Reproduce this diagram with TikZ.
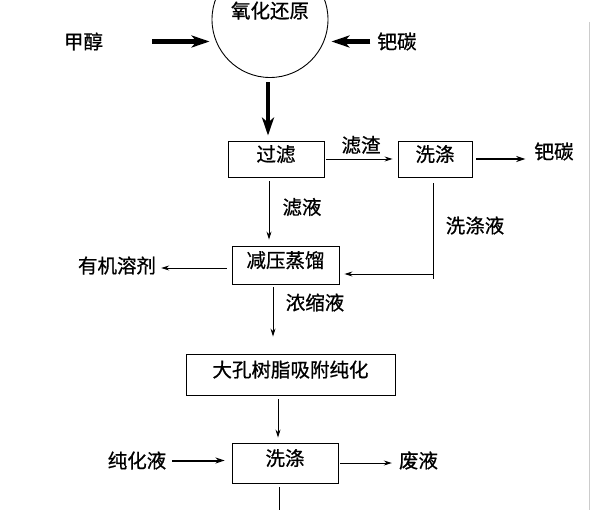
\documentclass[tikz,border=0pt]{standalone}
\usepackage{fontspec}
\setmainfont{Noto Sans CJK SC}[FakeBold=0.8]
\usetikzlibrary{arrows.meta}

\begin{document}
\begin{tikzpicture}[
    x=1pt, y=-1pt,
    every node/.style={font=\fontsize{19.5pt}{23pt}\selectfont, inner sep=3pt},
    box/.style={rectangle, draw, line width=0.9pt, text height=14pt, text depth=9pt},
    arrow/.style={-{Stealth[length=8pt, width=5pt]}, line width=0.9pt},
    midarrow/.style={-{Stealth[length=9pt, width=6pt]}, line width=2pt},
    fatarrow/.style={-{Stealth[length=18pt, width=12pt, inset=5pt]}, line width=4.5pt}
]
    \useasboundingbox (0,0) rectangle (593,510);
    \draw[gray!40, line width=1pt] (589,22) -- (589,510);

    % reaction
    \node[circle, draw, line width=0.9pt, minimum size=116pt, text height=14pt, text depth=17pt] (redox) at (270,19.5) {氧化还原};
    \node (methanol) at (83.5,41.5) {甲醇};
    \node (pdcin) at (397,41.5) {钯碳};

    \draw[fatarrow, shorten <=46pt, shorten >=2pt] (methanol.east) -- (methanol.east -| redox.west);
    \draw[fatarrow, shorten <=4pt, shorten >=3pt] (pdcin.west) -- (pdcin.west -| redox.east);

    % filtering and washing
    \node[box, minimum width=96pt, minimum height=36pt] (filter) at (276,159) {过滤};
    \node[box, minimum width=74pt, minimum height=36pt] (wash) at (435,159) {洗涤};
    \node (pdcout) at (554,151.5) {钯碳};

    \draw[fatarrow, shorten <=4.5pt, shorten >=5pt] ([xshift=-2pt]redox.south) -- ([xshift=-2pt]redox.south |- filter.north);
    \draw[arrow, shorten <=2pt, shorten >=5pt] (filter) -- (wash);
    \node at (361,145) (residue) {滤渣};
    \draw[midarrow, shorten <=4pt, shorten >=6pt] (wash) -- (pdcout.west |- wash);

    % distillation
    \node[box, minimum width=107pt, minimum height=38pt] (distill) at (285.5,265) {减压蒸馏};
    \node (solvent) at (117,265.5) {有机溶剂};

    \draw[arrow, shorten <=4pt, shorten >=6pt] ([xshift=-7pt]filter.south) -- ([xshift=-7pt]filter.south |- distill.north);
    \node at (302,207) (filtrate) {滤液};
    \coordinate (turn) at ([xshift=-2pt, yshift=-9pt]wash.south |- distill.east);
    \draw[line width=0.9pt] ([xshift=-2pt, yshift=-6pt]wash.south) -- ([yshift=-5pt]turn);
    \draw[arrow, shorten >=5pt] (turn) -- ([yshift=-9pt]distill.east);
    \node at (475,225.5) (washliq) {洗涤液};
    \draw[arrow, shorten <=5pt, shorten >=2pt] ([yshift=-3pt]distill.west) -- ([yshift=-3pt]distill.west -| solvent.east);

    % purification
    \node[box, minimum width=209pt, minimum height=41pt] (resin) at (290.5,374.5) {大孔树脂吸附纯化};
    \draw[arrow, shorten <=3pt, shorten >=17pt] ([xshift=-12.5pt]distill.south) -- ([xshift=-12.5pt]distill.south |- resin.north);
    \node at (315,302.5) (conc) {浓缩液};

    \node[box, minimum width=106pt, minimum height=40pt] (wash2) at (285,463) {洗涤};
    \node (purliq) at (137,460.5) {纯化液};
    \node (waste) at (418.5,460.5) {废液};
    \coordinate (out) at (279,515);

    \draw[arrow, shorten <=4pt, shorten >=5pt] ([xshift=-12.5pt]resin.south) -- ([xshift=-12.5pt]resin.south |- wash2.north);
    \draw[midarrow, shorten <=3pt, shorten >=7pt] (purliq.east) -- (purliq.east -| wash2.west);
    \draw[arrow, shorten <=2pt, shorten >=4pt] (wash2.east) -- (wash2.east -| waste.west);
    \draw[line width=0.9pt, shorten <=4pt] (wash2.south -| out) -- (out);
\end{tikzpicture}
\end{document}
